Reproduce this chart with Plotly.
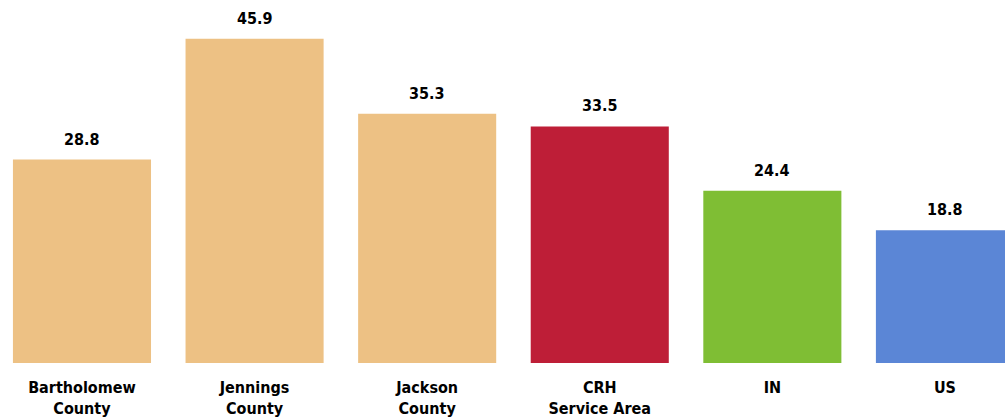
import plotly.graph_objects as go

categories = ["Bartholomew<br>County", "Jennings<br>County", "Jackson<br>County",
              "CRH<br>Service Area", "IN", "US"]
values = [28.8, 45.9, 35.3, 33.5, 24.4, 18.8]
colors = ["#EDC184", "#EDC184", "#EDC184", "#BE1E37", "#7FBE34", "#5B86D6"]

FONT = "DejaVu Sans Condensed, Liberation Sans Narrow, Arial Narrow, sans-serif"

x = list(range(len(categories)))
fig = go.Figure(go.Bar(
    x=x, y=values, marker=dict(color=colors, line=dict(width=0)), width=0.8,
    hoverinfo="skip",
))
for xi, v in zip(x, values):
    fig.add_annotation(x=xi, y=v, text=f"<b>{v:.1f}</b>", showarrow=False,
                       yanchor="bottom", yshift=9,
                       font=dict(family=FONT, size=16, color="#000000"))
fig.update_layout(
    width=1005, height=420,
    margin=dict(l=0, r=0, t=0, b=57),
    paper_bgcolor="white", plot_bgcolor="white",
    showlegend=False,
    xaxis=dict(range=[-0.475, 5.348], tickmode="array", tickvals=x,
               ticktext=[f"<b>{c}</b>" for c in categories],
               tickfont=dict(family=FONT, size=16, color="#000000"),
               showgrid=False, zeroline=False, showline=False,
               ticks="outside", ticklen=10, tickcolor="rgba(0,0,0,0)"),
    yaxis=dict(range=[0, 51.4], visible=False),
)
fig.write_html("out.html", config={"displayModeBar": False},
               post_script="document.body.style.margin='0';document.body.style.overflow='hidden';")
